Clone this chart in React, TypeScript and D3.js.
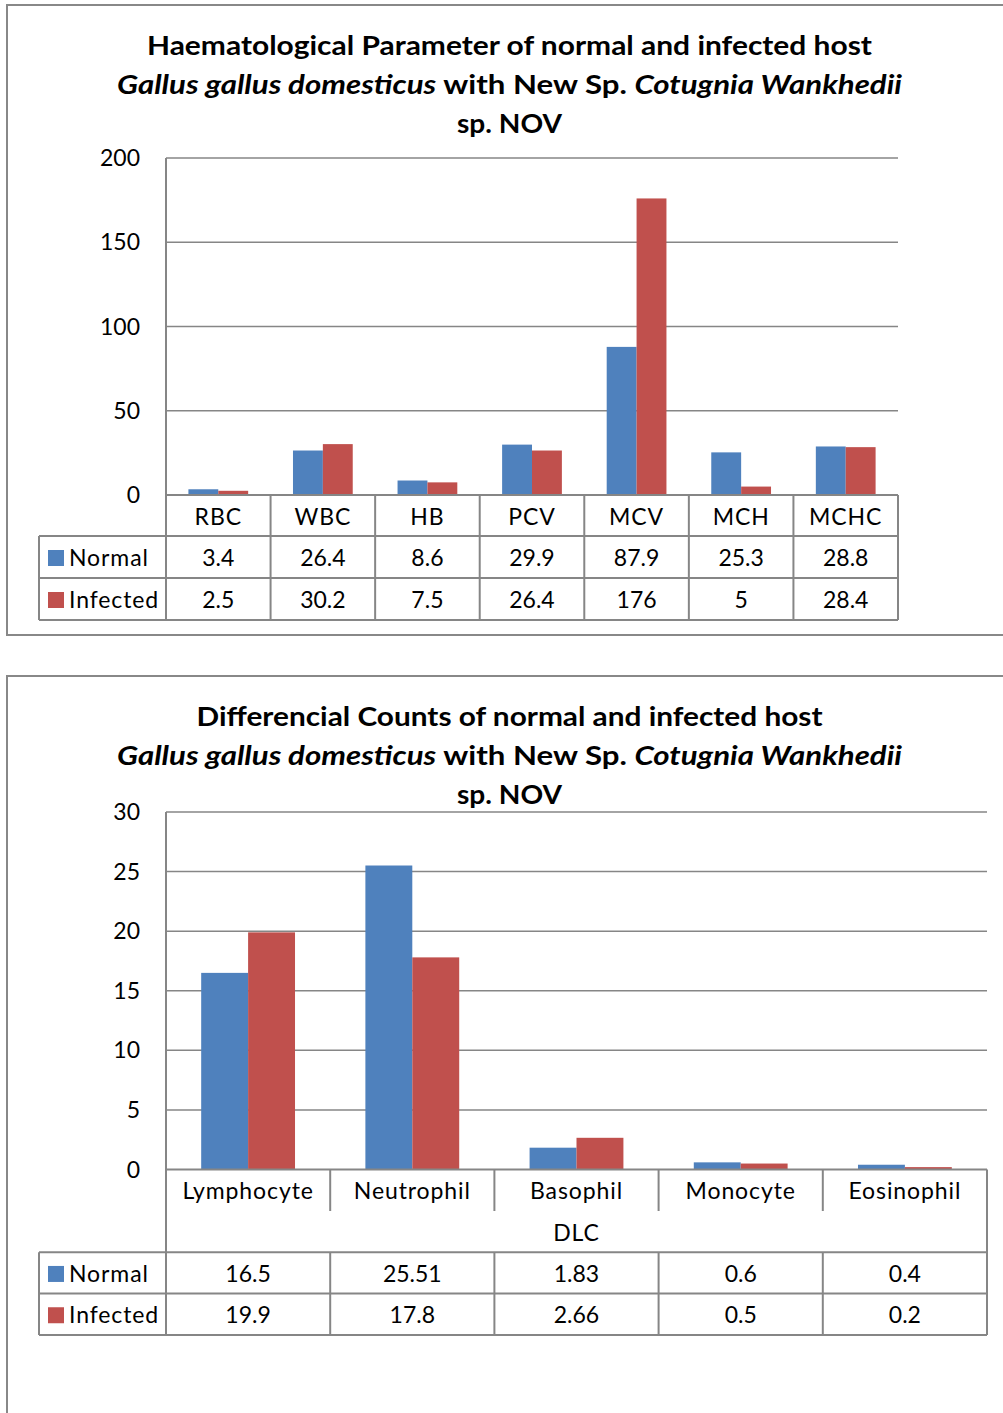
import React from "react";
import * as d3 from "d3";

// ---------- Data ----------
const seriesNames = ["Normal", "Infected"];
const seriesColors = ["#4F81BD", "#C0504D"];

const hemCategories = ["RBC", "WBC", "HB", "PCV", "MCV", "MCH", "MCHC"];
const hemNormal = [3.4, 26.4, 8.6, 29.9, 87.9, 25.3, 28.8];
const hemInfected = [2.5, 30.2, 7.5, 26.4, 176, 5, 28.4];
const hemNormalLabels = ["3.4", "26.4", "8.6", "29.9", "87.9", "25.3", "28.8"];
const hemInfectedLabels = ["2.5", "30.2", "7.5", "26.4", "176", "5", "28.4"];
const hemTicks = [0, 50, 100, 150, 200];

const dlcCategories = ["Lymphocyte", "Neutrophil", "Basophil", "Monocyte", "Eosinophil"];
const dlcNormal = [16.5, 25.51, 1.83, 0.6, 0.4];
const dlcInfected = [19.9, 17.8, 2.66, 0.5, 0.2];
const dlcNormalLabels = ["16.5", "25.51", "1.83", "0.6", "0.4"];
const dlcInfectedLabels = ["19.9", "17.8", "2.66", "0.5", "0.2"];
const dlcTicks = [0, 5, 10, 15, 20, 25, 30];

const FONT = "Lato, 'Open Sans', sans-serif";
const GRID = "#868686";

type ChartProps = {
  top: number;
  boxBottom: number;
  title1: string;
  title1Len: number;
  categories: string[];
  normal: number[];
  infected: number[];
  normalLabels: string[];
  infectedLabels: string[];
  ticks: number[];
  plotTop: number;
  plotBottom: number;
  plotRight: number;
  catRowH: number;
  groupLabel?: string;
  rowH: number;
};

function Chart(p: ChartProps) {
  const left = 166;
  const tableLeft = 39;
  const x = d3.scaleBand<string>().domain(p.categories).range([left, p.plotRight]).paddingInner(0).paddingOuter(0);
  const bw = x.bandwidth();
  const barW = bw / 3.5;
  const y = d3.scaleLinear().domain([0, d3.max(p.ticks) as number]).range([p.plotBottom, p.plotTop]);
  const catBottom = p.plotBottom + p.catRowH;
  const groupBottom = p.groupLabel ? catBottom + p.rowH : catBottom;
  const row1Bottom = groupBottom + p.rowH;
  const row2Bottom = row1Bottom + p.rowH;
  const series = [p.normal, p.infected];
  const labels = [p.normalLabels, p.infectedLabels];
  const cx = 509.5;
  const fs = 23;
  const tfs = 27;
  const ls = 0.9;
  return (
    <g>
      <rect x={7} y={p.top} width={1010} height={p.boxBottom - p.top} fill="#fff" stroke="#888" strokeWidth={2} />
      <text x={cx} y={p.top + 50} textAnchor="middle" fontFamily={FONT} fontWeight="bold" fontSize={tfs} fill="#000"
        textLength={p.title1Len} lengthAdjust="spacingAndGlyphs">
        {p.title1}
      </text>
      <text x={cx} y={p.top + 89} textAnchor="middle" fontFamily={FONT} fontWeight="bold" fontSize={tfs} fill="#000"
        textLength={785} lengthAdjust="spacingAndGlyphs">
        <tspan fontStyle="italic">Gallus gallus domesticus</tspan>
        <tspan> with New Sp. </tspan>
        <tspan fontStyle="italic">Cotugnia Wankhedii</tspan>
      </text>
      <text x={cx} y={p.top + 128} textAnchor="middle" fontFamily={FONT} fontWeight="bold" fontSize={tfs} fill="#000"
        textLength={105} lengthAdjust="spacingAndGlyphs">
        sp. NOV
      </text>
      {/* gridlines */}
      {p.ticks.filter((t) => t !== 0).map((t) => (
        <line key={t} x1={left} x2={p.plotRight} y1={y(t)} y2={y(t)} stroke={GRID} strokeWidth={1.5} />
      ))}
      {p.ticks.map((t) => (
        <text key={"l" + t} x={140} y={y(t)} dy="0.35em" textAnchor="end" fontFamily={FONT} fontSize={fs} fill="#000">
          {t}
        </text>
      ))}
      {/* bars */}
      {p.categories.map((c, i) =>
        series.map((s, k) => {
          const bx = (x(c) as number) + bw / 2 - barW + k * barW;
          return (
            <rect key={c + k} x={bx} y={y(s[i])} width={barW} height={y(0) - y(s[i])} fill={seriesColors[k]} />
          );
        })
      )}
      {/* axis line / vertical axis */}
      <line x1={left} x2={left} y1={p.plotTop} y2={row2Bottom} stroke={GRID} strokeWidth={2} />
      <line x1={left} x2={p.plotRight} y1={p.plotBottom} y2={p.plotBottom} stroke={GRID} strokeWidth={2} />
      {/* table lines */}
      <line x1={p.plotRight} x2={p.plotRight} y1={p.plotBottom} y2={row2Bottom} stroke={GRID} strokeWidth={2} />
      {p.categories.slice(1).map((c) => (
        <line key={"v" + c} x1={x(c)} x2={x(c)} y1={p.plotBottom} y2={catBottom} stroke={GRID} strokeWidth={2} />
      ))}
      {p.categories.slice(1).map((c) => (
        <line key={"w" + c} x1={x(c)} x2={x(c)} y1={groupBottom} y2={row2Bottom} stroke={GRID} strokeWidth={2} />
      ))}
      {[groupBottom, row1Bottom, row2Bottom].map((yy) => (
        <line key={"h" + yy} x1={tableLeft} x2={p.plotRight} y1={yy} y2={yy} stroke={GRID} strokeWidth={2} />
      ))}
      <line x1={tableLeft} x2={tableLeft} y1={groupBottom} y2={row2Bottom} stroke={GRID} strokeWidth={2} />
      {/* category labels */}
      {p.categories.map((c) => (
        <text key={"c" + c} x={(x(c) as number) + bw / 2} y={(p.plotBottom + catBottom) / 2 + 1} dy="0.35em" textAnchor="middle" fontFamily={FONT} fontSize={fs} letterSpacing={ls} fill="#000">
          {c}
        </text>
      ))}
      {p.groupLabel && (
        <text x={(left + p.plotRight) / 2} y={(catBottom + groupBottom) / 2 + 1} dy="0.35em" textAnchor="middle" fontFamily={FONT} fontSize={fs} letterSpacing={ls} fill="#000">
          {p.groupLabel}
        </text>
      )}
      {/* series rows */}
      {seriesNames.map((n, k) => {
        const rt = k === 0 ? groupBottom : row1Bottom;
        const rc = rt + p.rowH / 2;
        return (
          <g key={n}>
            <rect x={48} y={rc - 7} width={16} height={16} fill={seriesColors[k]} />
            <text x={69} y={rc + 1} dy="0.35em" fontFamily={FONT} fontSize={fs} letterSpacing={ls} fill="#000">
              {n}
            </text>
            {p.categories.map((c, i) => (
              <text key={c} x={(x(c) as number) + bw / 2} y={rc + 1} dy="0.35em" textAnchor="middle" fontFamily={FONT} fontSize={fs} fill="#000">
                {labels[k][i]}
              </text>
            ))}
          </g>
        );
      })}
    </g>
  );
}

export default function App() {
  return (
    <svg width={1003} height={1413} style={{ position: "absolute", left: 0, top: 0, background: "#fff" }}>
      <rect x={0} y={0} width={1003} height={1413} fill="#fff" />
      <Chart
        top={5}
        boxBottom={635}
        title1="Haematological Parameter of normal and infected host"
        title1Len={725}
        categories={hemCategories}
        normal={hemNormal}
        infected={hemInfected}
        normalLabels={hemNormalLabels}
        infectedLabels={hemInfectedLabels}
        ticks={hemTicks}
        plotTop={158}
        plotBottom={495}
        plotRight={898}
        catRowH={41}
        rowH={42}
      />
      <Chart
        top={676}
        boxBottom={1440}
        title1="Differencial Counts of normal and infected host"
        title1Len={626}
        categories={dlcCategories}
        normal={dlcNormal}
        infected={dlcInfected}
        normalLabels={dlcNormalLabels}
        infectedLabels={dlcInfectedLabels}
        ticks={dlcTicks}
        plotTop={812}
        plotBottom={1169.5}
        plotRight={987}
        catRowH={41.5}
        groupLabel="DLC"
        rowH={41.3}
      />
    </svg>
  );
}
